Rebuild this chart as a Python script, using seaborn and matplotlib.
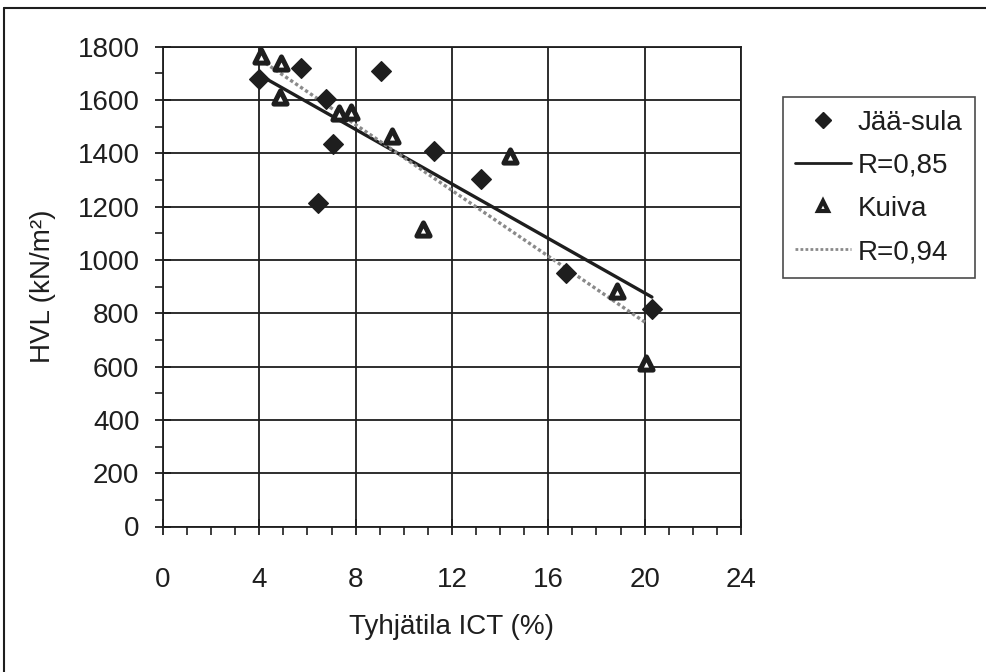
import matplotlib
matplotlib.use("Agg")
import matplotlib.pyplot as plt
from matplotlib.lines import Line2D
from matplotlib.ticker import MultipleLocator
import numpy as np
import pandas as pd
import seaborn as sns

# Jää-sula (freeze-thaw) samples: void content (%) vs. HVL (kN/m²)
jaa_sula_ict = [4.0, 5.75, 9.05, 6.75, 7.05, 11.25, 13.2, 6.45, 16.75, 20.3]
jaa_sula_hvl = [1680, 1720, 1710, 1605, 1435, 1410, 1305, 1215, 950, 815]

# Kuiva (dry) samples
kuiva_ict = [4.05, 4.9, 4.85, 7.3, 7.8, 9.5, 10.8, 14.4, 18.85, 20.05]
kuiva_hvl = [1765, 1737, 1612, 1550, 1556, 1465, 1115, 1390, 884, 612]

legend_labels = ["Jää-sula", "R=0,85", "Kuiva", "R=0,94"]
x_ticks = [0, 4, 8, 12, 16, 20, 24]
y_ticks = [0, 200, 400, 600, 800, 1000, 1200, 1400, 1600, 1800]

sula = pd.DataFrame({"ict": jaa_sula_ict, "hvl": jaa_sula_hvl})
kuiva = pd.DataFrame({"ict": kuiva_ict, "hvl": kuiva_hvl})

sns.set_theme(style="white")
plt.rcParams["font.family"] = ["Liberation Sans", "DejaVu Sans"]

W, H = 987, 672
FS = 20
fig = plt.figure(figsize=(W / 100, H / 100), dpi=100)
ax_l, ax_r, ax_t, ax_b = 163, 741, 46.7, 526.5
ax = fig.add_axes([ax_l / W, 1 - ax_b / H, (ax_r - ax_l) / W, (ax_b - ax_t) / H])

ink = "#1e1e1e"
dot_grey = "#8a8a8a"

# regression lines
sns.regplot(data=sula, x="ict", y="hvl", ax=ax, scatter=False, ci=None,
            truncate=True, line_kws=dict(color=ink, lw=2.4, zorder=4))
sns.regplot(data=kuiva, x="ict", y="hvl", ax=ax, scatter=False, ci=None,
            truncate=True, line_kws=dict(color=dot_grey, lw=2.4,
                                         ls=(0, (1, 0.8)), zorder=4))

# sample points
sns.scatterplot(data=sula, x="ict", y="hvl", ax=ax, marker="D", s=100,
                color=ink, edgecolor=ink, linewidth=1, zorder=5)
sns.scatterplot(data=kuiva, x="ict", y="hvl", ax=ax, marker="^", s=90,
                facecolor="white", edgecolor=ink, linewidth=3.6, zorder=6)

ax.set_xlim(0, 24)
ax.set_ylim(0, 1800)
ax.set_xticks(x_ticks)
ax.set_yticks(y_ticks)
ax.xaxis.set_minor_locator(MultipleLocator(1))
ax.yaxis.set_minor_locator(MultipleLocator(100))
ax.grid(True, which="major", color=ink, lw=1.3)
for s in ax.spines.values():
    s.set_color(ink)
    s.set_linewidth(1.3)
ax.tick_params(axis="both", which="major", direction="inout", length=12,
               width=1.3, color=ink, labelsize=FS, labelcolor=ink)
ax.tick_params(axis="both", which="minor", direction="out", length=6,
               width=1.2, color=ink)
ax.tick_params(axis="y", which="both", left=True, right=False, pad=11)
ax.tick_params(axis="x", which="both", bottom=True, top=False, pad=23)

ax.set_xlabel("Tyhjätila ICT (%)", fontsize=FS, color=ink)
ax.set_ylabel("HVL (kN/m²)", fontsize=FS, color=ink)
ax.xaxis.set_label_coords(0.5, (ax_b - 614) / (ax_b - ax_t))
ax.yaxis.set_label_coords((56 - ax_l) / (ax_r - ax_l), 0.5)

handles = [
    Line2D([], [], marker="D", ls="none", color=ink, markersize=8),
    Line2D([], [], color=ink, lw=2),
    Line2D([], [], marker="^", ls="none", markerfacecolor="white",
           markeredgecolor=ink, markeredgewidth=3, markersize=7),
    Line2D([], [], color=dot_grey, lw=2, ls=(0, (1, 0.8))),
]
leg = fig.legend(handles, legend_labels, loc="upper left",
                 bbox_to_anchor=(783 / W, 1 - 97 / H), bbox_transform=fig.transFigure,
                 borderaxespad=0, fontsize=FS, frameon=True, fancybox=False,
                 handlelength=2.0, handletextpad=0.25, labelspacing=0.62,
                 borderpad=0.45)
leg.get_frame().set_edgecolor(ink)
leg.get_frame().set_linewidth(1.2)
for t in leg.get_texts():
    t.set_color(ink)

# outer chart frame (top and left edges)
fig.add_artist(Line2D([4 / W, 1.0], [1 - 8 / H, 1 - 8 / H], color=ink, lw=1.5,
                      transform=fig.transFigure))
fig.add_artist(Line2D([4 / W, 4 / W], [0, 1 - 8 / H], color=ink, lw=1.5,
                      transform=fig.transFigure))

fig.savefig("out.png", dpi=100, facecolor="white")
